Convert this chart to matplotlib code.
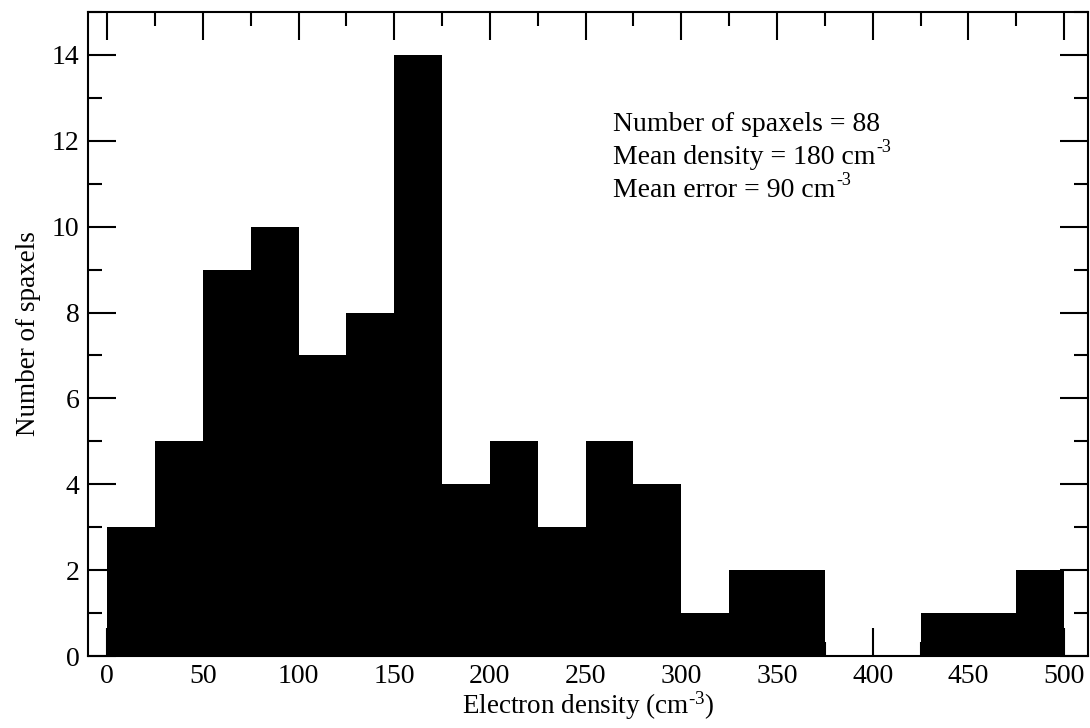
import numpy as np
import matplotlib
matplotlib.use("Agg")
from matplotlib import pyplot as plt
from matplotlib.ticker import MultipleLocator

# histogram of electron density, bins of 25 cm^-3
bin_edges = [0, 25, 50, 75, 100, 125, 150, 175, 200, 225, 250,
             275, 300, 325, 350, 375, 400, 425, 450, 475, 500]
counts = [3, 5, 9, 10, 7, 8, 14, 4, 5, 3,
          5, 4, 1, 2, 2, 0, 0, 1, 1, 2]
info_lines = ["Number of spaxels = 88",
              "Mean density = 180 cm",
              "Mean error = 90 cm"]
info_sup = ["", "-3", "-3"]

plt.rcParams['font.family'] = ['Liberation Serif', 'DejaVu Serif']
plt.rcParams['mathtext.fontset'] = 'custom'
plt.rcParams['mathtext.rm'] = 'Liberation Serif'
plt.rcParams['mathtext.it'] = 'Liberation Serif:italic'

fig = plt.figure(figsize=(10.9, 7.28), dpi=100)
ax = fig.add_axes([0.0807, 0.0989, 0.9175, 0.8846])

ax.stairs(counts, bin_edges, fill=True, color='black', linewidth=0)

ax.set_xlim(-10, 512.5)
ax.set_ylim(0, 15)
ax.xaxis.set_major_locator(MultipleLocator(50))
ax.xaxis.set_minor_locator(MultipleLocator(25))
ax.yaxis.set_major_locator(MultipleLocator(2))
ax.yaxis.set_minor_locator(MultipleLocator(1))
ax.tick_params(which='both', direction='in', top=True, right=True,
               width=1.5, labelsize=20, pad=6)
ax.tick_params(which='major', length=20)
ax.tick_params(which='minor', length=10)
for s in ax.spines.values():
    s.set_linewidth(1.5)

ax.set_xlabel(r"Electron density (cm$^{\text{-}3}$)", fontsize=19.5, labelpad=0)
ax.set_ylabel("Number of spaxels", fontsize=19.5, labelpad=8)

for i, line in enumerate(info_lines):
    t = ax.text(0.5245, 0.8155 - i * 0.0513, line, transform=ax.transAxes,
                fontsize=20, va='baseline', ha='left')
    if info_sup[i]:
        ax.annotate(info_sup[i], xy=(1, 1), xycoords=t,
                    xytext=(1, -2), textcoords='offset points',
                    fontsize=13, ha='left', va='center')

fig.savefig("out.png", dpi=100)
